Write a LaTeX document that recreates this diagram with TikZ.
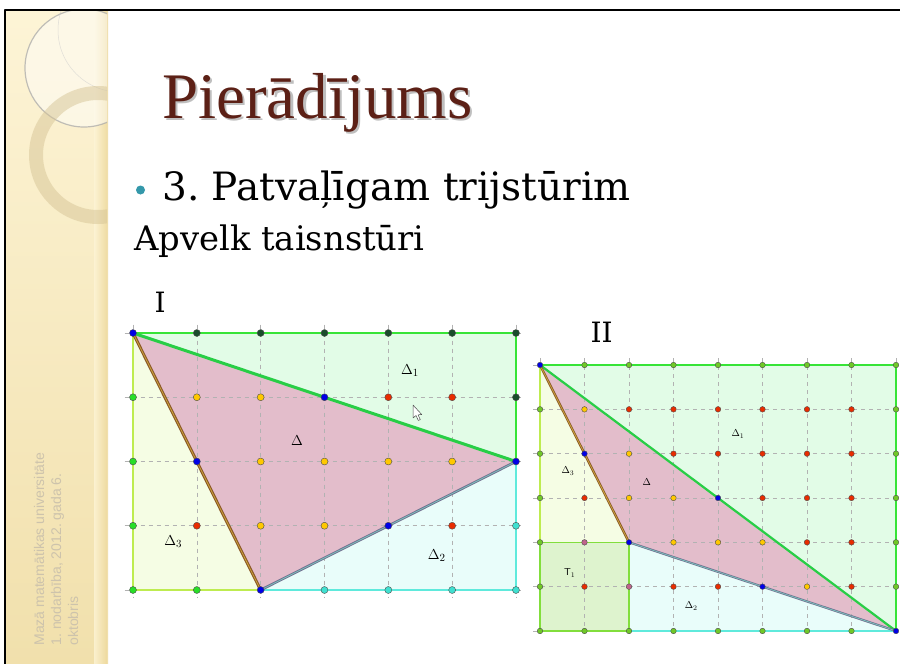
\documentclass[tikz,border=0pt]{standalone}
\usepackage{fontspec}
\setmainfont{DejaVu Serif}
\newfontfamily\titlefont{Liberation Serif}
\newfontfamily\sidefont{Liberation Sans}
\frenchspacing

\definecolor{sideTop}{RGB}{253,244,214}
\definecolor{sideBot}{RGB}{241,224,172}
\definecolor{sideEdge}{RGB}{236,214,150}
\definecolor{ringCol}{RGB}{214,196,150}
\definecolor{sideText}{RGB}{205,195,172}
\definecolor{titleBrown}{RGB}{92,32,22}
\definecolor{bulletTeal}{RGB}{52,152,170}
\definecolor{fillMain}{RGB}{227,189,203}
\definecolor{fillOne}{RGB}{226,252,231}
\definecolor{fillTwo}{RGB}{233,253,250}
\definecolor{fillThree}{RGB}{245,253,228}
\definecolor{fillT}{RGB}{222,243,206}
\definecolor{edgeGreen}{RGB}{55,228,55}
\definecolor{edgeLime}{RGB}{190,236,80}
\definecolor{edgeCyan}{RGB}{95,234,220}
\definecolor{edgeT}{RGB}{130,222,60}
\definecolor{sideAB}{RGB}{40,206,70}
\definecolor{sideACout}{RGB}{140,88,40}
\definecolor{sideACin}{RGB}{205,170,60}
\definecolor{sideCBout}{RGB}{115,112,145}
\definecolor{sideCBin}{RGB}{120,200,190}
% dot colours
\definecolor{ptB}{RGB}{0,0,230}
\definecolor{ptK}{RGB}{26,76,44}
\definecolor{ptG}{RGB}{40,222,40}
\definecolor{ptY}{RGB}{255,200,0}
\definecolor{ptR}{RGB}{232,44,0}
\definecolor{ptC}{RGB}{64,224,208}
\definecolor{ptL}{RGB}{112,200,40}
\definecolor{ptM}{RGB}{192,100,140}

\tikzset{
  gridLine/.style={gray!60, line width=0.6pt, dash pattern=on 4pt off 4pt},
  label/.style={inner sep=0pt},
  sideLine/.style={anchor=base west, rotate=90, text=sideText, font=\sidefont\fontsize{14}{14}\selectfont}
}

\newcommand{\dotRow}[3]{
  \foreach \c [count=\i from 0] in {#2}
    \filldraw[fill=pt\c, draw=black!70, line width=0.4pt] (\i,#1) circle (#3);
}
\newcommand{\doubleEdge}[5]{
  \draw[#3, line width=#5] (#1) -- (#2);
  \draw[#4, line width=0.7pt] (#1) -- (#2);
}

\begin{document}
\begin{tikzpicture}[x=1pt, y=-1pt, line join=round]
  \useasboundingbox (0,0) rectangle (900,664);
  \fill[white] (0,0) rectangle (900,664);

  % Sidebar
  \shade[top color=sideTop, bottom color=sideBot] (6,11) rectangle (107,664);
  \shade[left color=sideTop, right color=sideEdge, opacity=0.8] (94,11) rectangle (108,664);
  \begin{scope}
    \clip (6,11) rectangle (107,664);
    \fill[white, opacity=0.45] (84,68) circle (59pt);
    \draw[gray!70, line width=1.2pt, opacity=0.7] (84,68) circle (59pt);
    \draw[gray!40, line width=0.5pt, opacity=0.6] (120,30) circle (62pt);
    \draw[ringCol, line width=14pt, opacity=0.5] (98,155) circle (62pt);
  \end{scope}
  \node (sideA) [sideLine] at (44,649) {Mazā matemātikas universitāte};
  \node (sideB) [sideLine] at (61,649) {1. nodarbība, 2012. gada 6.};
  \node (sideC) [sideLine] at (78,649) {oktobris};

  % Frame
  \draw[black, line width=2pt] (900,10) -- (5,10) -- (5,664);

  % Texts
  \node (title) [anchor=base west, inner sep=0pt, text=titleBrown, font=\titlefont\fontsize{65}{65}\selectfont] at (162,118)
    {\makebox[0pt][l]{\hspace{2.5pt}\raisebox{-2.5pt}{\color{black!25}Pierādījums}}Pierādījums};
  \node (bullet) [circle, fill=bulletTeal, inner sep=0pt, minimum size=9pt] at (140.5,190) {};
  \node (point) [anchor=base west, inner sep=0pt, font=\fontsize{39}{39}\selectfont] at (162,200) {3. Patvaļīgam trijstūrim};
  \node (sub) [anchor=base west, inner sep=0pt, font=\fontsize{33.8}{33.8}\selectfont] at (134,250) {Apvelk taisnstūri};
  \node (capI) [anchor=base west, font=\fontsize{28}{28}\selectfont] at (151,312) {I};
  \node (capII) [anchor=base west, font=\fontsize{28}{28}\selectfont] at (587,342) {II};

  % Picture I
  \begin{scope}[shift={(133,333)}, x=63.83pt, y=-64.25pt]
    \coordinate (IA) at (0,0);
    \coordinate (IB) at (6,2);
    \coordinate (IC) at (2,4);
    \coordinate (ITR) at (6,0);
    \coordinate (IBL) at (0,4);
    \coordinate (IBR) at (6,4);
    \fill[fillOne] (IA) -- (ITR) -- (IB) -- cycle;
    \fill[fillTwo] (IC) -- (IBR) -- (IB) -- cycle;
    \fill[fillThree] (IA) -- (IBL) -- (IC) -- cycle;
    \fill[fillMain] (IA) -- (IB) -- (IC) -- cycle;
    \foreach \gx in {0,...,6} \draw[gridLine] (\gx,-0.13) -- (\gx,4.13);
    \foreach \gy in {0,...,4} \draw[gridLine] (-0.13,\gy) -- (6.13,\gy);
    \draw[edgeGreen, line width=2pt] (IA) -- (ITR) -- (IB);
    \draw[edgeCyan, line width=1.4pt] (IB) -- (IBR) -- (IC);
    \draw[edgeLime, line width=1.4pt] (IC) -- (IBL) -- (IA);
    \draw[sideAB, line width=3pt] (IA) -- (IB);
    \doubleEdge{IA}{IC}{sideACout}{sideACin}{3pt}
    \doubleEdge{IC}{IB}{sideCBout}{sideCBin}{2.6pt}
    \dotRow{0}{B,K,K,K,K,K,K}{3.5pt}
    \dotRow{1}{G,Y,Y,B,R,R,K}{3.5pt}
    \dotRow{2}{G,B,Y,Y,Y,Y,B}{3.5pt}
    \dotRow{3}{G,R,Y,Y,B,R,C}{3.5pt}
    \dotRow{4}{G,G,B,C,C,C,C}{3.5pt}
    \node (IlOne) [label, font=\fontsize{15}{15}\selectfont] at (4.34,0.58) {$\Delta_1$};
    \node (IlMain) [label, font=\fontsize{15}{15}\selectfont] at (2.57,1.68) {$\Delta$};
    \node (IlThree) [label, font=\fontsize{15}{15}\selectfont] at (0.63,3.24) {$\Delta_3$};
    \node (IlTwo) [label, font=\fontsize{15}{15}\selectfont] at (4.76,3.47) {$\Delta_2$};
  \end{scope}

  % Cursor
  \draw[fill=white, draw=black!70, line width=0.5pt] (413,405) -- (413,418) -- (416,415.5) -- (418.3,420.5) -- (420.3,419.6) -- (418,414.8) -- (421.8,414.6) -- cycle;

  % Picture II
  \begin{scope}[shift={(540,365)}, x=44.5pt, y=-44.33pt]
    \coordinate (IIA) at (0,0);
    \coordinate (IIB) at (8,6);
    \coordinate (IIC) at (2,4);
    \coordinate (IITR) at (8,0);
    \coordinate (IIML) at (0,4);
    \coordinate (IIBM) at (2,6);
    \coordinate (IIBL) at (0,6);
    \fill[fillOne] (IIA) -- (IITR) -- (IIB) -- cycle;
    \fill[fillThree] (IIA) -- (IIML) -- (IIC) -- cycle;
    \fill[fillT] (IIML) rectangle (IIBM);
    \fill[fillTwo] (IIC) -- (IIBM) -- (IIB) -- cycle;
    \fill[fillMain] (IIA) -- (IIB) -- (IIC) -- cycle;
    \foreach \gx in {0,...,8} \draw[gridLine] (\gx,-0.15) -- (\gx,6.15);
    \foreach \gy in {0,...,6} \draw[gridLine] (-0.15,\gy) -- (8.15,\gy);
    \draw[edgeGreen, line width=1.5pt] (IIA) -- (IITR) -- (IIB);
    \draw[edgeCyan, line width=1.2pt] (IIBM) -- (IIB);
    \draw[edgeLime, line width=1.2pt] (IIA) -- (IIML);
    \draw[edgeT, line width=1.2pt] (IIML) -- (IIC) -- (IIBM) -- (IIBL) -- cycle;
    \draw[sideAB, line width=2.2pt] (IIA) -- (IIB);
    \doubleEdge{IIA}{IIC}{sideACout}{sideACin}{2.4pt}
    \doubleEdge{IIC}{IIB}{sideCBout}{sideCBin}{2.2pt}
    \dotRow{0}{B,L,L,L,L,L,L,L,L}{2.8pt}
    \dotRow{1}{L,Y,R,R,R,R,R,R,L}{2.8pt}
    \dotRow{2}{L,B,Y,R,R,R,R,R,L}{2.8pt}
    \dotRow{3}{L,R,Y,Y,B,R,R,R,L}{2.8pt}
    \dotRow{4}{L,M,B,Y,Y,Y,R,R,L}{2.8pt}
    \dotRow{5}{L,R,M,R,R,B,Y,R,L}{2.8pt}
    \dotRow{6}{L,L,L,L,L,L,L,L,B}{2.8pt}
    \node (IIlOne) [label, font=\fontsize{10}{10}\selectfont] at (4.45,1.56) {$\Delta_1$};
    \node (IIlMain) [label, font=\fontsize{10}{10}\selectfont] at (2.4,2.64) {$\Delta$};
    \node (IIlThree) [label, font=\fontsize{10}{10}\selectfont] at (0.63,2.39) {$\Delta_3$};
    \node (IIlTwo) [label, font=\fontsize{10}{10}\selectfont] at (3.4,5.44) {$\Delta_2$};
    \node (IIlT) [label, font=\sffamily\fontsize{10}{10}\selectfont] at (0.67,4.69) {T$_1$};
  \end{scope}
\end{tikzpicture}
\end{document}
